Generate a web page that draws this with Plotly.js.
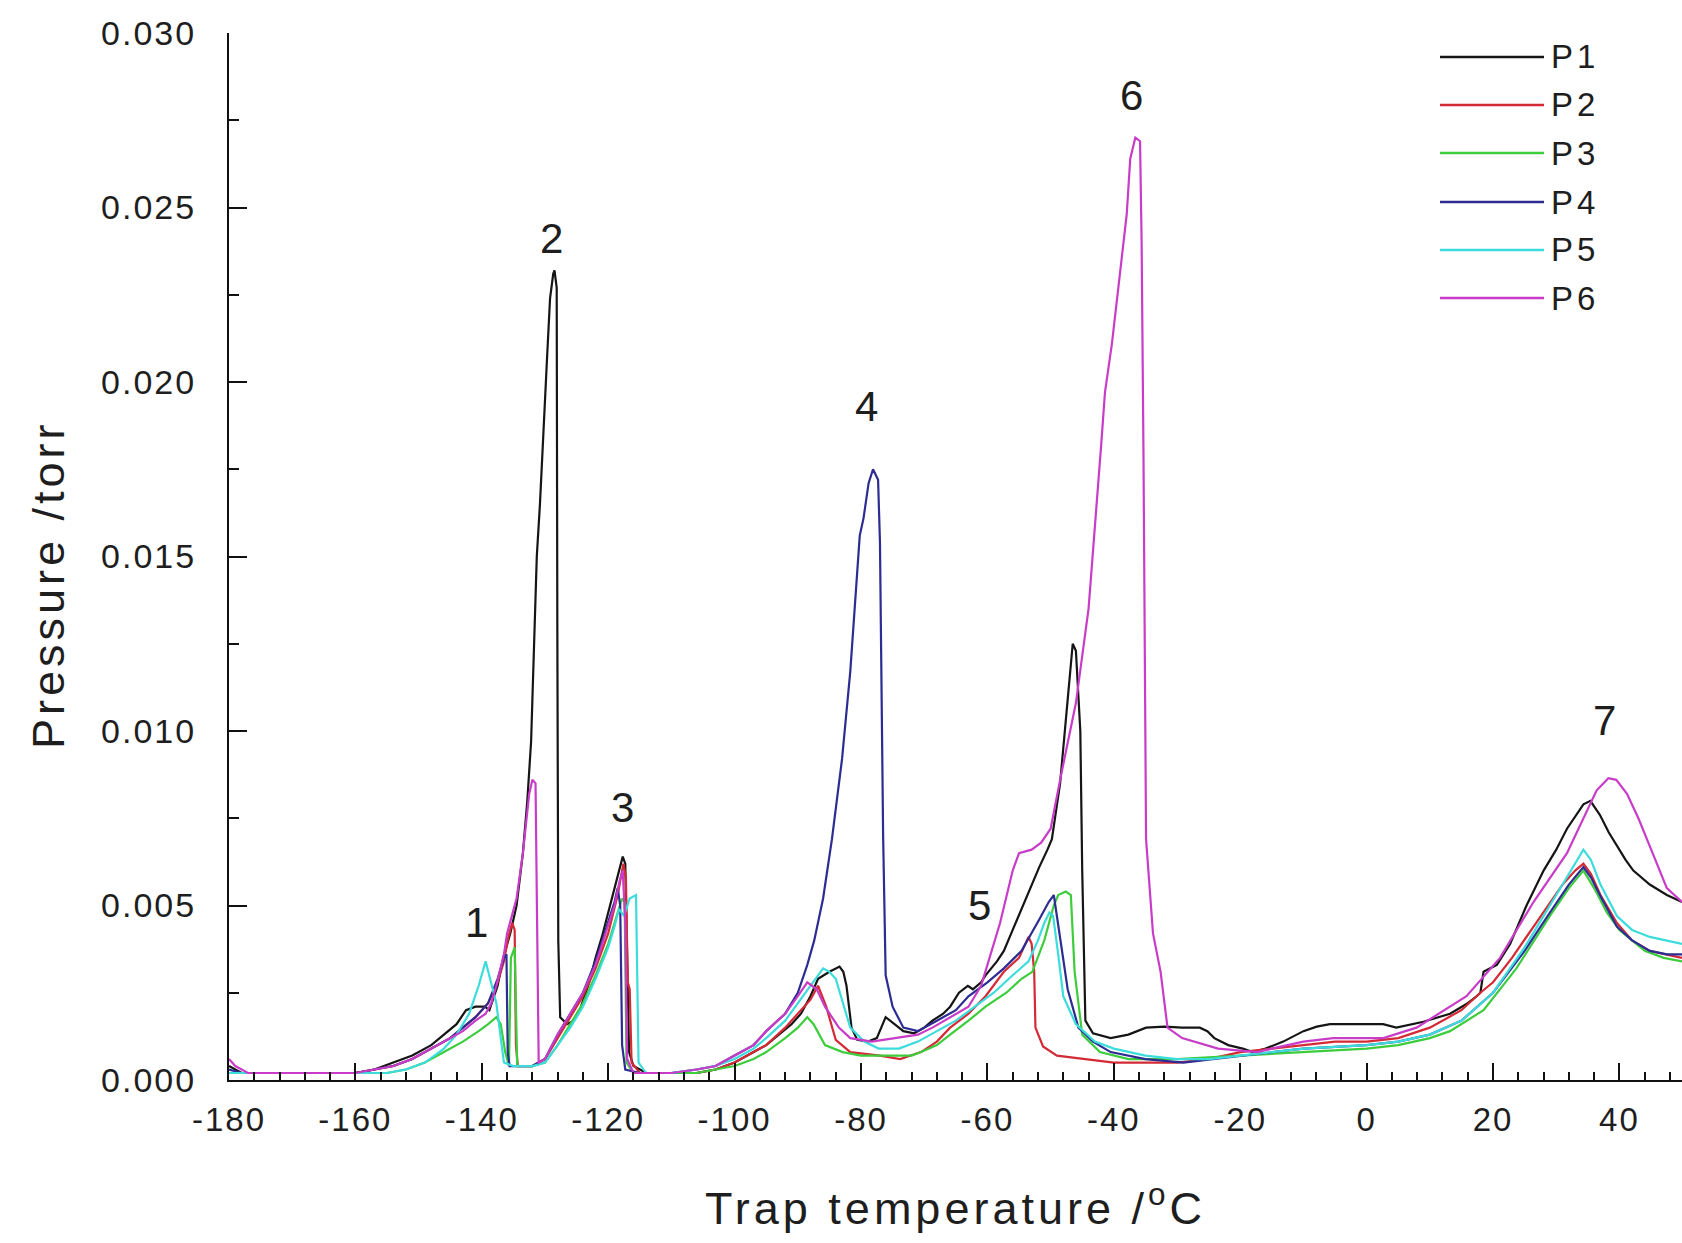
<!DOCTYPE html>
<html>
<head>
<meta charset="utf-8">
<script src="https://cdn.plot.ly/plotly-3.0.1.min.js"></script>
<style>
  html, body { margin: 0; padding: 0; background: #fff; }
  .annotation-text { letter-spacing: 4px; }
  .xtick text, .ytick text { letter-spacing: 2px; }
</style>
</head>
<body>
<div id="chart" style="width:1682px;height:1243px;"></div>
<script>
// ---------------- DATA ----------------
const seriesNames = ['P1', 'P2', 'P3', 'P4', 'P5', 'P6'];
const seriesColors = ['#151515', '#d42a36', '#3ccc3c', '#2c2c92', '#3cdcdc', '#c83cc8'];

// [temperature °C, pressure torr]
const P1 = [[-180,0.0004],[-178,0.0002],[-170,0.0002],[-160,0.0002],[-157,0.0003],[-154,0.0005],[-151,0.0007],[-148,0.0010],[-146,0.0013],[-144,0.0016],[-142.5,0.0020],[-141,0.0021],[-139.5,0.0021],[-138.8,0.0020],[-137.5,0.0027],[-136.6,0.0035],[-135.5,0.0042],[-134.5,0.0050],[-133.5,0.0065],[-132.8,0.0080],[-132.2,0.0097],[-131.6,0.0133],[-131.3,0.0150],[-130.8,0.0165],[-130.3,0.0185],[-129.7,0.0206],[-129.2,0.0224],[-128.7,0.0231],[-128.5,0.0232],[-128.15,0.0227],[-128.05,0.0130],[-127.9,0.0040],[-127.6,0.0018],[-126.5,0.0016],[-125.5,0.0017],[-124.5,0.0020],[-123,0.0028],[-122,0.0035],[-121,0.0041],[-120,0.0048],[-119,0.0055],[-118.3,0.0060],[-117.7,0.0064],[-117.3,0.0062],[-117.0,0.0030],[-116.7,0.0008],[-116,0.0004],[-114,0.0002],[-110,0.0002],[-106,0.0002],[-103,0.0003],[-100,0.0005],[-97,0.0008],[-95,0.0010],[-93,0.0013],[-91,0.0016],[-89.5,0.0019],[-88,0.0024],[-86.8,0.0029],[-85,0.0031],[-83.4,0.00325],[-82.8,0.0031],[-82.3,0.0027],[-81.5,0.0015],[-80.6,0.00115],[-78.9,0.0011],[-77.5,0.0012],[-76.1,0.0018],[-74.7,0.0016],[-73.3,0.0014],[-71.6,0.00134],[-70,0.0015],[-68.7,0.0017],[-67,0.0019],[-65.9,0.0021],[-64.5,0.0025],[-63.1,0.0027],[-62.3,0.0026],[-61,0.0028],[-60.3,0.0030],[-58.5,0.0034],[-57.4,0.0037],[-56,0.0043],[-54.6,0.0049],[-53,0.0056],[-51.8,0.0061],[-50.5,0.0066],[-49.8,0.0069],[-48.5,0.0085],[-47.5,0.0105],[-46.8,0.0120],[-46.5,0.0125],[-46.0,0.0123],[-45.3,0.0100],[-45.0,0.0060],[-44.5,0.0017],[-43.3,0.00134],[-40.5,0.0012],[-37.7,0.0013],[-34.9,0.0015],[-32,0.00153],[-29.2,0.0015],[-26.4,0.0015],[-25.2,0.0014],[-24.1,0.0012],[-21.9,0.0010],[-19.6,0.0009],[-18,0.0008],[-16,0.0009],[-13.2,0.0011],[-10,0.0014],[-7.9,0.00153],[-5.8,0.0016],[-2,0.0016],[2.6,0.0016],[4.7,0.0015],[9,0.00167],[13.2,0.0019],[16,0.0022],[17.4,0.0024],[18,0.0025],[18.5,0.0031],[20.6,0.0033],[22.7,0.0039],[25.3,0.0050],[28,0.0060],[30,0.0066],[31.7,0.0072],[33.5,0.0077],[34.3,0.0079],[35.4,0.0080],[36.9,0.0076],[38.3,0.0071],[39.6,0.0067],[41,0.0063],[42.2,0.0060],[44.8,0.0056],[47.5,0.0053],[49.9,0.0051]];

const P2 = [[-180,0.0002],[-170,0.0002],[-160,0.0002],[-157,0.0003],[-154,0.0004],[-151,0.0006],[-148,0.0009],[-145,0.0012],[-143,0.0015],[-141,0.0018],[-139,0.0022],[-137.5,0.0028],[-136.5,0.0034],[-135.8,0.0041],[-135.2,0.0045],[-134.8,0.0043],[-134.6,0.0010],[-134.3,0.0004],[-132,0.0004],[-130,0.0006],[-128,0.0012],[-126,0.0018],[-124,0.0024],[-122,0.0032],[-120,0.0042],[-118.5,0.0053],[-117.6,0.0062],[-117.2,0.0058],[-116.9,0.0028],[-116.6,0.0026],[-116.3,0.0005],[-115,0.0002],[-110,0.0002],[-106,0.0002],[-103,0.0003],[-100,0.0005],[-97,0.0008],[-95,0.0010],[-92,0.0015],[-90,0.0019],[-88,0.0023],[-86.8,0.0027],[-85.5,0.0021],[-84,0.00115],[-81.7,0.0008],[-77,0.0007],[-73.8,0.0006],[-70.5,0.0008],[-68,0.0011],[-65.9,0.0015],[-63,0.0019],[-60.3,0.0024],[-57.4,0.0031],[-55,0.0035],[-53.5,0.0041],[-53,0.0039],[-52.6,0.0031],[-52.4,0.0015],[-51.2,0.00096],[-49,0.0007],[-44.5,0.0006],[-40,0.0005],[-35,0.0005],[-30,0.0005],[-25,0.0006],[-20,0.0008],[-15,0.0009],[-10,0.0010],[-5,0.0011],[0,0.0011],[5,0.0012],[10,0.0015],[15,0.0020],[18,0.0025],[20,0.0028],[23,0.0035],[26,0.0043],[29,0.0051],[31,0.0056],[33,0.0060],[34.3,0.0062],[35.5,0.0059],[37,0.0053],[39.6,0.0045],[42,0.0040],[44.8,0.0037],[47.5,0.0036],[49.9,0.0035]];

const P3 = [[-180,0.0002],[-170,0.0002],[-160,0.0002],[-155,0.0002],[-152,0.0003],[-149,0.0005],[-146,0.0008],[-143,0.0011],[-140.5,0.0014],[-139,0.0016],[-137.7,0.0018],[-137,0.0016],[-136.3,0.0008],[-135.7,0.0004],[-135.4,0.0035],[-134.8,0.0038],[-134.4,0.0004],[-132,0.0004],[-130,0.0005],[-128,0.0010],[-126,0.0016],[-124,0.0022],[-122,0.0030],[-120,0.0039],[-118.5,0.0048],[-117.8,0.0052],[-117.4,0.0051],[-117.1,0.0005],[-116,0.0002],[-110,0.0002],[-106,0.0002],[-103,0.0003],[-100,0.0004],[-97,0.0006],[-95,0.0008],[-92,0.0012],[-90,0.0015],[-88.5,0.0018],[-87.5,0.0016],[-85.7,0.0010],[-82.9,0.0008],[-80,0.0007],[-75,0.0007],[-72,0.0007],[-70.5,0.0008],[-68,0.0010],[-65.9,0.0013],[-63,0.0017],[-60.3,0.0021],[-57,0.0025],[-54.6,0.0029],[-52.9,0.0031],[-51,0.0040],[-49.5,0.0050],[-48.8,0.0053],[-47.6,0.0054],[-46.8,0.0053],[-46.4,0.0040],[-46.2,0.0031],[-45,0.0013],[-42.2,0.0008],[-37.7,0.0006],[-30,0.0006],[-20,0.0007],[-10,0.0008],[0,0.0009],[5,0.0010],[10,0.0012],[13.2,0.0014],[18.5,0.0020],[23.7,0.0032],[29,0.0047],[32,0.0055],[34.3,0.0060],[36,0.0055],[38,0.0048],[40,0.0043],[44,0.0037],[47,0.0035],[49.9,0.0034]];

const P4 = [[-180,0.0003],[-178,0.0002],[-170,0.0002],[-160,0.0002],[-157,0.0003],[-154,0.0004],[-151,0.0006],[-148,0.0009],[-145,0.0012],[-143,0.0015],[-141,0.0018],[-139,0.0022],[-137.5,0.0029],[-136.5,0.0035],[-136.1,0.0036],[-135.9,0.0008],[-135.6,0.0004],[-132,0.0004],[-130,0.0006],[-128,0.0013],[-126,0.0019],[-124,0.0025],[-122,0.0034],[-120,0.0045],[-119,0.0051],[-118.5,0.0055],[-118.1,0.0050],[-117.8,0.0010],[-117.3,0.0003],[-115,0.0002],[-110,0.0002],[-106,0.0003],[-103,0.0004],[-100,0.0007],[-97,0.0010],[-95,0.0014],[-92,0.0019],[-90,0.0025],[-88.5,0.0033],[-87.4,0.0040],[-86,0.0052],[-84.6,0.0069],[-83,0.0092],[-81.7,0.0117],[-81.2,0.0131],[-80.7,0.0145],[-80.2,0.0156],[-79.6,0.0161],[-78.8,0.0171],[-78.1,0.0175],[-77.3,0.0172],[-77.0,0.0154],[-76.8,0.0120],[-76.5,0.0070],[-76.1,0.0030],[-75.0,0.0021],[-73.3,0.0015],[-71,0.0014],[-68,0.0017],[-65,0.0020],[-63,0.0024],[-60,0.0028],[-57.4,0.0032],[-54.6,0.0037],[-51.8,0.0046],[-50.3,0.0051],[-49.5,0.0053],[-48.4,0.0040],[-47.3,0.0026],[-45.6,0.0015],[-43.3,0.0011],[-40.5,0.0008],[-35,0.0006],[-29,0.0005],[-24,0.0006],[-20,0.0007],[-15,0.0008],[-10,0.0009],[0,0.0010],[5,0.0011],[10,0.0013],[15,0.0017],[20,0.0025],[25,0.0037],[29,0.0048],[32,0.0056],[34.3,0.0061],[35.5,0.0058],[36.9,0.0053],[39.6,0.0044],[42,0.0040],[44.8,0.0037],[47.5,0.0036],[49.9,0.0036]];

const P5 = [[-180,0.0002],[-170,0.0002],[-160,0.0002],[-155,0.0002],[-152,0.0003],[-149,0.0005],[-146,0.0009],[-144,0.0013],[-142,0.0019],[-140.5,0.0027],[-139.4,0.0034],[-138.5,0.0028],[-137.7,0.0022],[-137,0.0012],[-136.5,0.0005],[-135,0.0004],[-132,0.0004],[-130,0.0005],[-128,0.0010],[-126,0.0015],[-124,0.0021],[-122,0.0029],[-120,0.0038],[-119,0.0044],[-118.3,0.0049],[-117.5,0.0047],[-116.6,0.0052],[-115.6,0.0053],[-115.2,0.0005],[-114,0.0002],[-110,0.0002],[-106,0.0003],[-103,0.0004],[-100,0.0006],[-97,0.0009],[-95,0.0012],[-92,0.0017],[-90,0.0022],[-88,0.0027],[-86,0.0032],[-85,0.0031],[-84,0.0029],[-81.7,0.0015],[-79.5,0.0011],[-77.2,0.0009],[-74,0.0009],[-71,0.0011],[-68,0.0014],[-65,0.0017],[-62,0.0021],[-59,0.0025],[-56,0.0030],[-53.5,0.0034],[-52,0.0040],[-51,0.0045],[-50.2,0.0048],[-49.6,0.0047],[-48.8,0.0036],[-48,0.0024],[-46,0.0016],[-43,0.0011],[-40,0.0009],[-35,0.0007],[-30,0.0006],[-25,0.0006],[-20,0.0007],[-15,0.0008],[-10,0.0009],[0,0.0010],[5,0.0011],[10,0.0013],[15,0.0017],[20,0.0025],[25,0.0038],[30,0.0053],[33,0.0062],[34.3,0.0066],[35.5,0.0063],[37,0.0056],[39.6,0.0047],[42,0.0043],[44.8,0.0041],[47.5,0.0040],[49.9,0.0039]];

const P6 = [[-180,0.0006],[-179,0.0004],[-177,0.0002],[-170,0.0002],[-160,0.0002],[-157,0.0003],[-154,0.0004],[-151,0.0006],[-148,0.0009],[-145,0.0012],[-143,0.0014],[-141,0.0017],[-139.4,0.0019],[-138.5,0.0022],[-137.7,0.0027],[-136.5,0.0036],[-136,0.0042],[-134.5,0.0052],[-133.5,0.0065],[-132.5,0.0082],[-132,0.0086],[-131.5,0.0085],[-131.2,0.0035],[-131,0.0005],[-130,0.0006],[-128,0.0013],[-126,0.0019],[-124,0.0025],[-122,0.0033],[-120,0.0044],[-119,0.0050],[-118.2,0.0057],[-117.7,0.0060],[-117.3,0.0045],[-117.0,0.0006],[-116,0.0002],[-110,0.0002],[-106,0.0003],[-103,0.0004],[-100,0.0007],[-97,0.0010],[-95,0.0014],[-92,0.0019],[-90,0.0024],[-88.5,0.0028],[-87,0.0026],[-85.7,0.0021],[-83.5,0.0015],[-81.7,0.0012],[-78.3,0.0011],[-74.4,0.0012],[-71,0.0013],[-68.7,0.0015],[-65,0.0019],[-63,0.0021],[-61,0.0027],[-60,0.0033],[-58,0.0045],[-56,0.0060],[-55,0.0065],[-53,0.0066],[-51.5,0.0068],[-50,0.0072],[-48.5,0.0086],[-46,0.0108],[-44,0.0135],[-42,0.0182],[-41.4,0.0197],[-40.3,0.0211],[-39.5,0.0224],[-38.75,0.0237],[-37.96,0.0248],[-37.4,0.0264],[-36.6,0.0270],[-35.85,0.0269],[-35.6,0.0240],[-35.3,0.0178],[-34.9,0.0069],[-33.8,0.0042],[-32.6,0.0031],[-31.5,0.0015],[-29.2,0.0012],[-23.5,0.0009],[-17.3,0.0008],[-15,0.0009],[-10,0.0011],[-5.3,0.0012],[2.65,0.0012],[7.9,0.0015],[15.8,0.0024],[21.1,0.0035],[26.4,0.0051],[31.7,0.0065],[34.3,0.0075],[36.4,0.0083],[38.25,0.00865],[39.5,0.0086],[41.2,0.0082],[43,0.0075],[44.8,0.0067],[47.5,0.0055],[49.9,0.0051]];

const seriesData = [P1, P2, P3, P4, P5, P6];

// peak labels
const peakLabels = ['1', '2', '3', '4', '5', '6', '7'];
const peakX = [-140.6, -128.7, -117.5, -78.8, -61.0, -36.9, 37.9];
const peakY = [0.0045, 0.0241, 0.0078, 0.0193, 0.0050, 0.0282, 0.0103];

// ticks
const xTickVals = [-180, -160, -140, -120, -100, -80, -60, -40, -20, 0, 20, 40];
const xTickText = ['-180', '-160', '-140', '-120', '-100', '-80', '-60', '-40', '-20', '0', '20', '40'];
const yTickVals = [0, 0.005, 0.010, 0.015, 0.020, 0.025, 0.030];
const yTickText = ['0.000', '0.005', '0.010', '0.015', '0.020', '0.025', '0.030'];

const xTitle = 'Trap temperature /<sup>o</sup>C';
const yTitle = 'Pressure /torr';

// ---------------- LAYOUT ----------------
const W = 1682, H = 1243, ML = 229, MR = 0, MT = 33, MB = 163;
const PW = W - ML - MR, PH = H - MT - MB;
const px2x = p => (p - ML) / PW;
const px2y = p => (H - MB - p) / PH;

const FONT = 'Liberation Sans, Arial, Helvetica, sans-serif';
const TXT = '#1e1e1e';

const traces = seriesData.map((d, i) => ({
  type: 'scatter',
  mode: 'lines',
  name: seriesNames[i],
  x: d.map(p => p[0]),
  y: d.map(p => p[1]),
  line: { color: seriesColors[i], width: 2.2 },
  hoverinfo: 'skip'
}));

const annotations = [];
const shapes = [];

peakLabels.forEach((t, i) => {
  annotations.push({
    x: peakX[i], y: peakY[i], xref: 'x', yref: 'y', text: t, showarrow: false,
    font: { family: FONT, size: 42, color: TXT }, xanchor: 'center', yanchor: 'middle'
  });
});

// manual legend
const legRowsPx = [57, 105, 153, 202, 250, 298];
seriesNames.forEach((n, i) => {
  shapes.push({
    type: 'line', xref: 'paper', yref: 'paper',
    x0: px2x(1440), x1: px2x(1544), y0: px2y(legRowsPx[i]), y1: px2y(legRowsPx[i]),
    line: { color: seriesColors[i], width: 2.5 }
  });
  annotations.push({
    xref: 'paper', yref: 'paper', x: px2x(1549), y: px2y(legRowsPx[i]),
    text: n, showarrow: false, xanchor: 'left', yanchor: 'middle',
    font: { family: FONT, size: 33, color: TXT }
  });
});

// axis titles
annotations.push({
  xref: 'paper', yref: 'paper', x: 0.5, y: px2y(1205), text: xTitle, showarrow: false,
  xanchor: 'center', yanchor: 'middle', font: { family: FONT, size: 45, color: TXT }
});
annotations.push({
  xref: 'paper', yref: 'paper', x: px2x(48), y: px2y(585), text: yTitle, showarrow: false,
  textangle: -90, xanchor: 'center', yanchor: 'middle', font: { family: FONT, size: 45, color: TXT }
});

const layout = {
  width: W, height: H,
  margin: { l: ML, r: MR, t: MT, b: MB, pad: 0 },
  paper_bgcolor: '#ffffff', plot_bgcolor: '#ffffff',
  showlegend: false,
  font: { family: FONT, size: 33, color: TXT },
  xaxis: {
    range: [-180, 49.9], showgrid: false, zeroline: false,
    showline: true, linecolor: '#111', linewidth: 2,
    ticks: 'inside', ticklen: 17, tickwidth: 2, tickcolor: '#111',
    tickmode: 'array', tickvals: xTickVals, ticktext: xTickText,
    tickfont: { family: FONT, size: 33, color: TXT },
    ticklabelstandoff: 9,
    minor: { ticks: 'inside', ticklen: 8, tickwidth: 2, tickcolor: '#111', dtick: 4, tick0: -180, showgrid: false }
  },
  yaxis: {
    range: [0, 0.030], showgrid: false, zeroline: false,
    showline: true, linecolor: '#111', linewidth: 2,
    ticks: 'inside', ticklen: 18, tickwidth: 2, tickcolor: '#111',
    tickmode: 'array', tickvals: yTickVals, ticktext: yTickText,
    tickfont: { family: FONT, size: 34, color: TXT },
    ticklabelstandoff: 24,
    minor: { ticks: 'inside', ticklen: 10, tickwidth: 2, tickcolor: '#111', dtick: 0.0025, tick0: 0, showgrid: false }
  },
  shapes: shapes,
  annotations: annotations
};

Plotly.newPlot('chart', traces, layout, { staticPlot: true, displayModeBar: false });
</script>
</body>
</html>
